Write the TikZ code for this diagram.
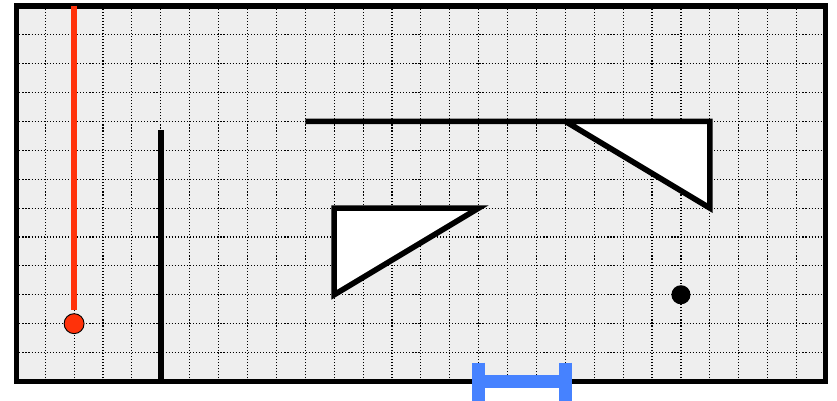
\documentclass[tikz,border=0pt]{standalone}
\usepackage{tikz}
\usetikzlibrary{positioning}

\definecolor{floorgray}{RGB}{238,238,238}
\definecolor{trailred}{RGB}{255,50,10}
\definecolor{doorblue}{RGB}{70,130,255}

\tikzset{
  gridline/.style={black,line width=1.1pt,dash pattern=on 1.1pt off 1.9pt},
  wall/.style={black,line width=5.5pt},
  trail/.style={trailred,line width=6.5pt},
  doorbar/.style={doorblue,line width=13pt}
}

\begin{document}
\begin{tikzpicture}
    \useasboundingbox (-0.564,-0.676) rectangle (28.4,13.2);
    % Carte : sol quadrillé
    \fill[floorgray] (0,0) rectangle (28,13);
    \draw[gridline] (0,0) grid (28,13);

    % Obstacles
    \fill[white] (19,9) -- (24,9) -- (24,6) -- cycle;
    \fill[white] (11,6) -- (16,6) -- (11,3) -- cycle;
    \draw[wall] (10,9) -- (24,9) -- (24,6) -- (19,9);
    \draw[wall] (11,6) -- (16,6) -- (11,3) -- cycle;
    \draw[wall] (5,0) -- (5,8.7);

    % Bordure
    \draw[wall] (0,0) rectangle (28,13);

    % Porte
    \draw[doorbar] (16,0.65) -- (16,-0.7);
    \draw[doorbar] (19,0.65) -- (19,-0.7);
    \draw[doorbar] (16,0) -- (19,0);

    % Robot, trajet et but
    \coordinate (depart) at (2,13);
    \node[circle,fill=trailred,draw=black,line width=0.9pt,minimum size=0.69cm,inner sep=0pt] (robot) at (2,2) {};
    \node[circle,fill=black,minimum size=0.66cm,inner sep=0pt] (but) at (23,3) {};
    \draw[trail,shorten >=3pt] (depart) -- (robot.north);
\end{tikzpicture}
\end{document}
